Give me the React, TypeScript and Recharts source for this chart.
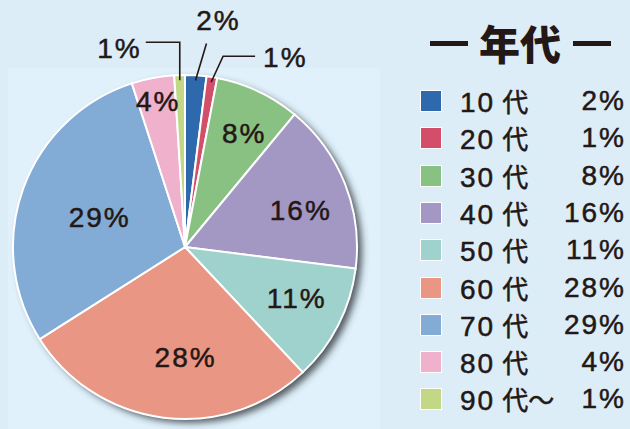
import React from 'react';
import { PieChart, Pie, Cell, Legend } from 'recharts';

const categories = ['10代', '20代', '30代', '40代', '50代', '60代', '70代', '80代', '90代～'];
const shares = [2, 1, 8, 16, 11, 28, 29, 4, 1];
const colors = ['#2f69ad', '#d34f69', '#89c182', '#a397c4', '#9fd2cd', '#ea9684', '#82acd6', '#efb1cc', '#c3d886'];
const legendTitle = '年代';

const data = categories.map((name, i) => ({ name, value: shares[i] }));
const total = shares.reduce((a, b) => a + b, 0);
const shadowData = [{ name: 'shadow', value: total }];

const TEXT = '#231815';
const FONT = '"Liberation Sans", Arial, "Noto Sans CJK JP", sans-serif';

// label placement (styling only)
const INSIDE: Record<number, { f: number; d: number }> = {
  2: { f: 0.74, d: 2 },
  3: { f: 0.7, d: 4 },
  4: { f: 0.71, d: -2 },
  5: { f: 0.645, d: -7 },
  6: { f: 0.53, d: -1 },
  7: { f: 0.86, d: 0 },
};
const OUTSIDE: Record<number, { path: number[][]; text: number[]; anchor: string }> = {
  0: { path: [[11, -37]], text: [23, -60], anchor: 'middle' },
  1: { path: [[12, -26], [44, -26]], text: [52, -25], anchor: 'start' },
  8: { path: [[0, -38], [-34, -38]], text: [-40, -32], anchor: 'end' },
};

const RAD = Math.PI / 180;

const labelText = (x: number, y: number, anchor: any, txt: string) => (
  <text x={x} y={y} textAnchor={anchor} dominantBaseline="central" fill={TEXT} stroke={TEXT} strokeWidth={0.5}
    fontSize={28} letterSpacing={2} fontFamily={FONT}>
    {txt}
  </text>
);

const renderLabel = (props: any) => {
  const { cx, cy, midAngle, outerRadius, index, value } = props;
  const cw = 90 - midAngle;
  const txt = `${value}%`;
  if (INSIDE[index]) {
    const { f, d } = INSIDE[index];
    const th = (cw + d) * RAD;
    const r = outerRadius * f;
    const x = cx + r * Math.sin(th) + 1;
    const y = cy - r * Math.cos(th);
    return <g key={`l${index}`}>{labelText(x, y, 'middle', txt)}</g>;
  }
  const o = OUTSIDE[index];
  if (!o) return null;
  const th = cw * RAD;
  const r = outerRadius * 0.97;
  const sx = cx + r * Math.sin(th);
  const sy = cy - r * Math.cos(th);
  const pts = [[sx, sy], ...o.path.map(([dx, dy]) => [sx + dx, sy + dy])];
  return (
    <g key={`l${index}`}>
      <polyline points={pts.map((p) => p.join(',')).join(' ')} fill="none" stroke={TEXT} strokeWidth={1.6} />
      {labelText(sx + o.text[0] + (o.anchor === 'end' ? 2 : 0), sy + o.text[1], o.anchor, txt)}
    </g>
  );
};

const LegendContent = () => (
  <div style={{ position: 'relative', width: 230, height: 429, fontFamily: FONT, color: TEXT }}>
    <div style={{ position: 'absolute', left: 30, top: 41, width: 38, height: 5, background: TEXT }} />
    <div style={{ position: 'absolute', left: 173, top: 41, width: 38, height: 5, background: TEXT }} />
    <div style={{ position: 'absolute', left: 72, top: 16, width: 96, textAlign: 'center', fontSize: 41, lineHeight: '52px',
      fontWeight: 900, fontFamily: '"Noto Sans CJK JP", sans-serif' }}>{legendTitle}</div>
    {categories.map((c, i) => {
      const yc = 101 + i * 37.3;
      return (
        <div key={c} style={{ position: 'absolute', left: 0, top: yc - 18, width: 230, height: 36, WebkitTextStroke: '0.5px ' + TEXT }}>
          <div style={{ position: 'absolute', left: 20, top: 7, width: 20, height: 20, background: colors[i], border: '1px solid #ffffff', WebkitTextStroke: '0' }} />
          <div style={{ position: 'absolute', left: 60, top: 0, fontSize: 28, lineHeight: '36px', whiteSpace: 'nowrap' }}>
            <span style={{ letterSpacing: 2 }}>{c.slice(0, 2)}</span>
            <span style={{ fontFamily: '"Noto Sans CJK JP", sans-serif', fontSize: 26, marginLeft: 7 }}>{c.slice(2)}</span>
          </div>
          <div style={{ position: 'absolute', right: 4, top: 0, fontSize: 28, lineHeight: '36px', letterSpacing: 2 }}>{shares[i]}%</div>
        </div>
      );
    })}
  </div>
);

export default function App() {
  return (
    <div style={{ position: 'absolute', left: 0, top: 0, width: 630, height: 429, background: '#dcedf8', overflow: 'hidden' }}>
      <div style={{ position: 'absolute', left: 8, top: 68, width: 372, height: 361, background: '#e0f1fb' }} />
      <div style={{ position: 'absolute', left: 0, top: 0 }}>
        <PieChart width={630} height={429} margin={{ top: 0, right: 0, bottom: 0, left: 0 }}>
          <defs>
            <filter id="pieShadow" x="-20%" y="-20%" width="140%" height="140%">
              <feGaussianBlur stdDeviation="3.5" />
            </filter>
          </defs>
          <Pie data={shadowData} dataKey="value" cx={190} cy={251} outerRadius={172} startAngle={90} endAngle={-270}
            stroke="none" isAnimationActive={false} legendType="none">
            <Cell fill="#3a4046" fillOpacity={0.85} filter="url(#pieShadow)" />
          </Pie>
          <Pie data={data} dataKey="value" nameKey="name" cx={185} cy={247} outerRadius={172} startAngle={90} endAngle={-270}
            stroke="#ffffff" strokeWidth={2} isAnimationActive={false} label={renderLabel} labelLine={false}>
            {data.map((d, i) => (
              <Cell key={d.name} fill={colors[i]} />
            ))}
          </Pie>
          <Legend content={<LegendContent />} wrapperStyle={{ position: 'absolute', left: 400, top: 0, width: 230, height: 429 }} />
        </PieChart>
      </div>
    </div>
  );
}
